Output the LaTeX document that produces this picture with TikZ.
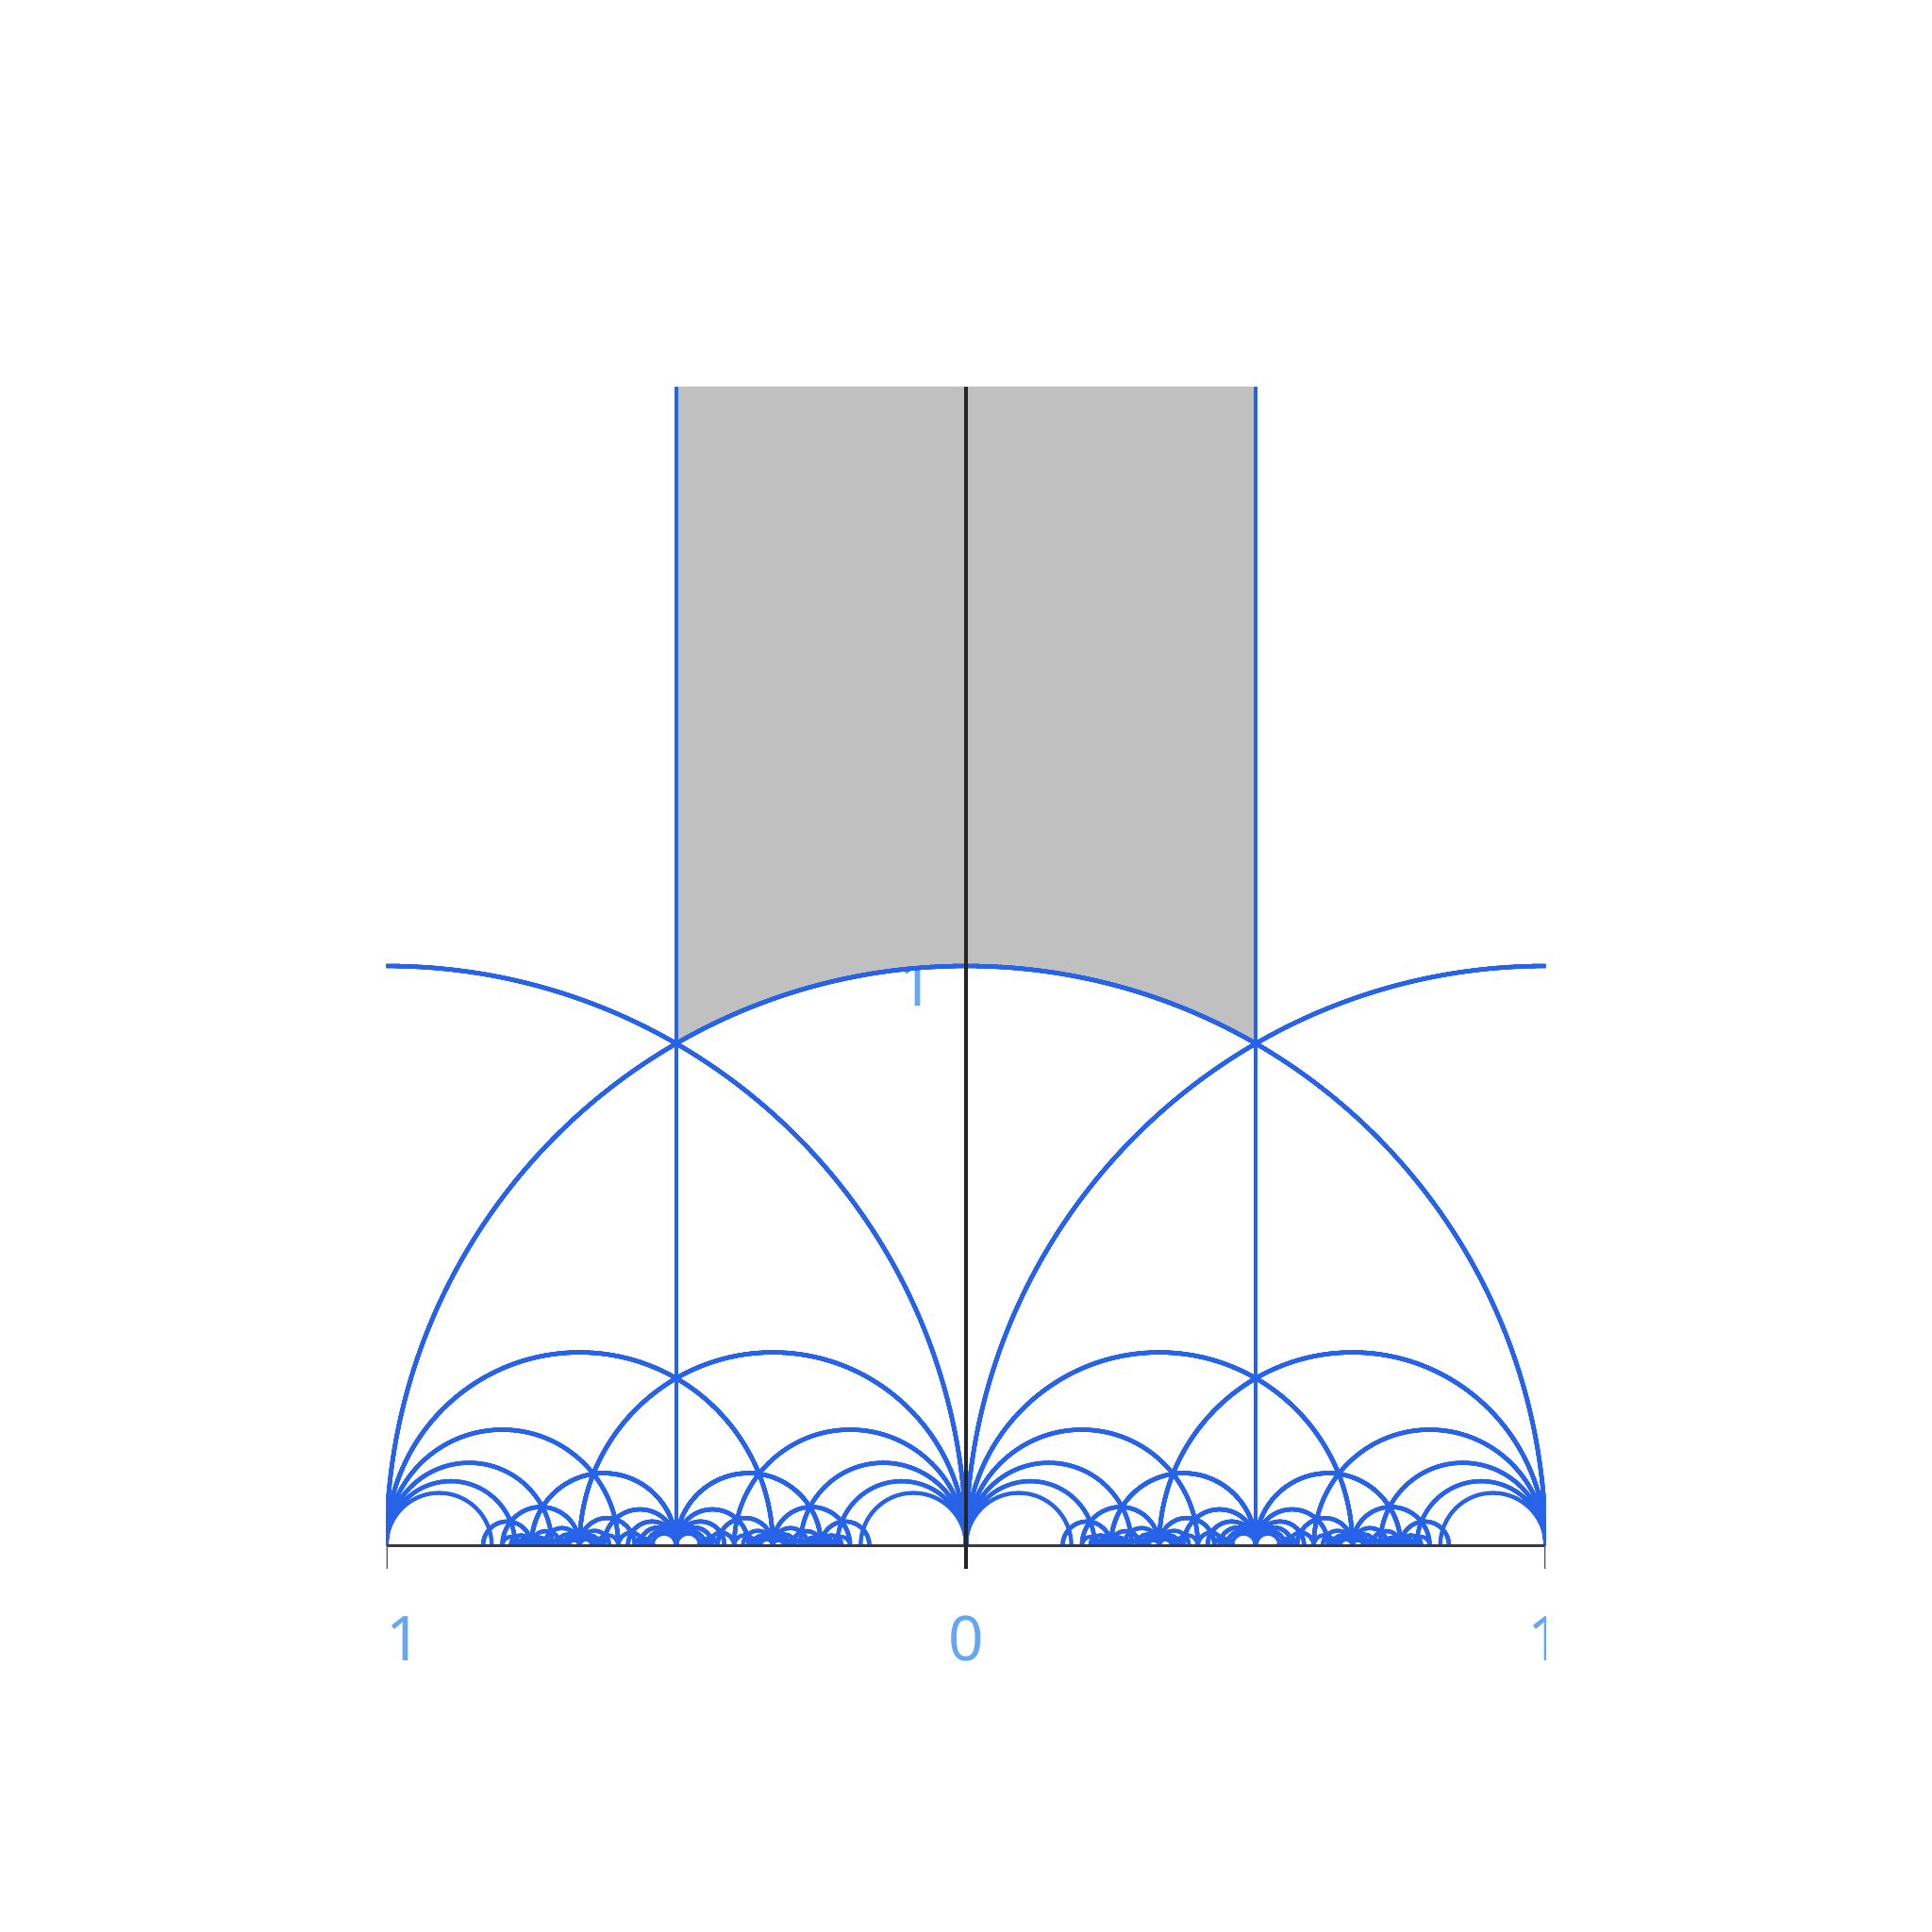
\documentclass[tikz,border=0pt]{standalone}
\usepackage{fontspec}
\setmainfont{Noto Sans}

\definecolor{geoblue}{RGB}{38,99,232}
\definecolor{lblblue}{RGB}{102,166,242}
\definecolor{domgray}{RGB}{192,192,192}
\definecolor{axisgray}{RGB}{58,58,58}

% geodesic between the cusps #1/#2 and #3/#4
\newcommand\geod[4]{%
  \edef\gp{\the\numexpr#1\relax}\edef\gq{\the\numexpr#2\relax}%
  \edef\gr{\the\numexpr#3\relax}\edef\gs{\the\numexpr#4\relax}%
  \ifnum\gq<0 \edef\gp{\the\numexpr0-(\gp)\relax}\edef\gq{\the\numexpr0-(\gq)\relax}\fi
  \ifnum\gs<0 \edef\gr{\the\numexpr0-(\gr)\relax}\edef\gs{\the\numexpr0-(\gs)\relax}\fi
  \ifnum\gq=0 \geodvert\gr\gs
  \else\ifnum\gs=0 \geodvert\gp\gq
  \else\geodarc
  \fi\fi}
\newcommand\geodvert[2]{%
  \ifnum\numexpr(#1)*(#1)\relax<\numexpr(#2)*(#2)\relax
    \edef\gx{\fpeval{#1/#2}}%
    \draw[geo] (\gx,0) -- (\gx,2);
  \fi}
\newcommand\geodarc{%
  \ifnum\numexpr\gq*\gs\relax<500
    \edef\gu{\fpeval{\gp/\gq}}\edef\gv{\fpeval{\gr/\gs}}%
    \edef\gok{\fpeval{max(\gu,\gv)>-1 && min(\gu,\gv)<1}}%
    \ifnum\gok=1
      \edef\gc{\fpeval{round((\gu+\gv)/2,6)}}%
      \edef\grad{\fpeval{round(abs(\gu-\gv)/2,6)}}%
      \draw[geo] (\gc,0) ++(\grad,0) arc[start angle=0,end angle=180,radius=\grad];
    \fi
  \fi}
% image of the three sides under the matrix (#1 #2; #3 #4)
\newcommand\geoimg[4]{%
  \geod{(#1)+2*(#2)}{(#3)+2*(#4)}{#1}{#3}%
  \geod{2*(#2)-(#1)}{2*(#4)-(#3)}{#1}{#3}%
  \geod{(#2)-(#1)}{(#4)-(#3)}{(#1)+(#2)}{(#3)+(#4)}}

\begin{document}
\begin{tikzpicture}
    [scale=5,
     geo/.style={draw=geoblue,line width=1pt},
     lbl/.style={text=lblblue,font=\fontsize{15.2}{18}\selectfont,inner sep=0pt}]
    \useasboundingbox (-5/3,-2/3) rectangle (5/3,8/3);
    \begin{scope}
      \clip (-1,-0.6) rectangle (1,2);
      \node [lbl] (lm1) at (-1,-0.16) {−1};
      \node [lbl] (l0) at (0,-0.16) {0};
      \node [lbl] (l1) at (1,-0.16) {1};
      \node [lbl] (li) at (-0.085,0.969) {1};
      \fill [domgray] (-0.5,2) -- (-0.5,{sqrt(3)/2})
        arc [start angle=120,end angle=60,radius=1] -- (0.5,2) -- cycle;
      \foreach \n in {-5,...,5}{
        \geoimg{1}{\n}{0}{1}
        \foreach \ma in {-5,...,5}{
          \geoimg{\ma}{(\ma)*(\n)-1}{1}{\n}
        }
        \foreach \ma in {-4,-3,-2,2,3,4}{
          \foreach \mb in {-5,...,5}{
            \geoimg{(\mb)*(\ma)-1}{(\mb)*((\ma)*(\n)-1)-(\n)}{\ma}{(\ma)*(\n)-1}
          }
        }
      }
      \draw [axisgray,line width=0.75pt] (-1,0) -- (1,0);
      \draw [axisgray!85,line width=0.5pt] (-1,0) -- (-1,-0.04);
      \draw [axisgray!85,line width=0.5pt] (1,0) -- (1,-0.04);
      \draw [black!85,line width=0.9pt] (0,-0.04) -- (0,2);
    \end{scope}
\end{tikzpicture}
\end{document}
